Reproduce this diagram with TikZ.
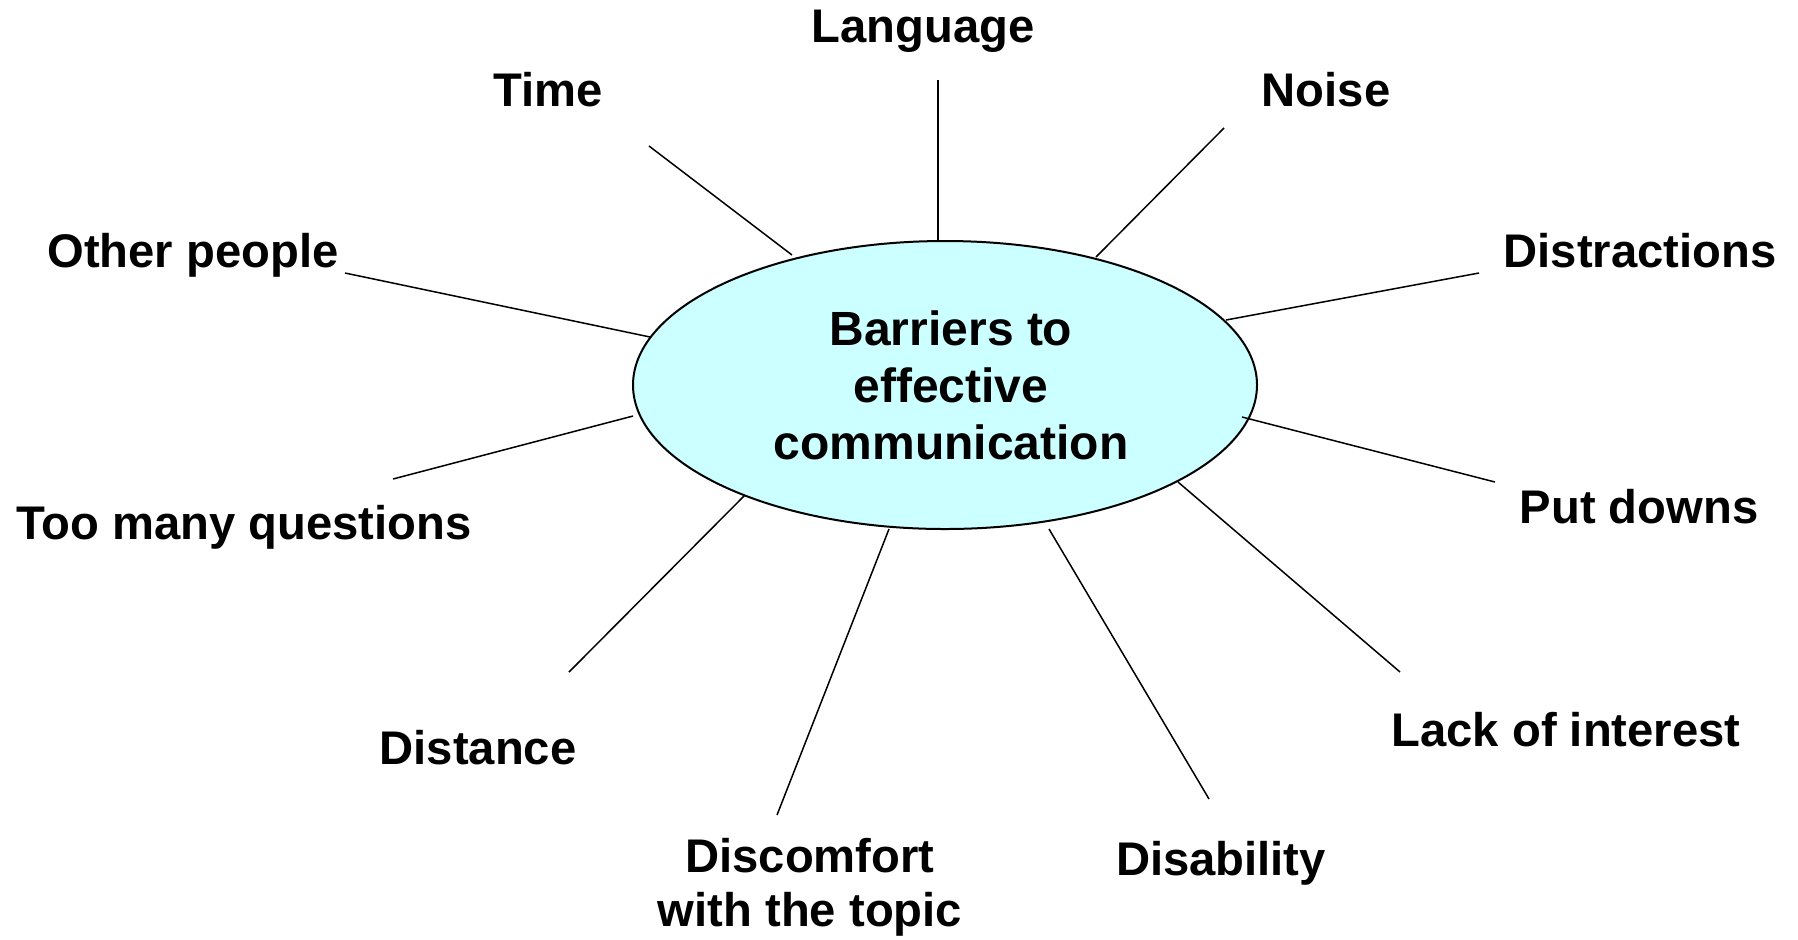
\documentclass[tikz,border=0pt]{standalone}
\usepackage{fontspec}
\setmainfont{Liberation Sans}
\usepackage{tikz}

\definecolor{hubfill}{HTML}{CCFFFF}
\tikzset{
  hub/.style={ellipse, draw, line width=1pt, fill=hubfill, inner sep=0pt,
    minimum width=312pt, minimum height=144pt, align=center,
    font=\fontsize{24}{28.5}\selectfont\bfseries},
  barrier/.style={anchor=base, inner sep=0pt, align=center,
    font=\fontsize{23.6}{28.5}\selectfont\bfseries},
  spoke/.style={line width=0.75pt}
}
\usetikzlibrary{shapes.geometric}

\begin{document}
\begin{tikzpicture}[x=0.5pt, y=-0.5pt]
        % Frame
        \useasboundingbox (0,0) rectangle (1798,939);

        % Central ellipse
        \node[hub] (hub) at (945,385) {\hspace*{6pt}Barriers to\\\hspace*{6pt}effective\\\hspace*{6pt}communication};

        % Barriers
        \foreach \name/\x/\y/\txt in {language/923/42/Language, time/548/106/Time,
            noise/1326/106/Noise, other/193/267/Other people,
            distract/1640/267/Distractions, questions/244/539/Too many questions,
            putdowns/1639/523/Put downs, distance/478/764/Distance,
            disability/1221/875/Disability, interest/1566/746/Lack of interest} {
            \node[barrier] (\name) at (\x,\y) {\txt};
        }
        \node[barrier, anchor=center, font=\fontsize{23.6}{27}\selectfont\bfseries]
            (discomfort) at (810,887) {Discomfort\\with the topic};

        % Spokes
        \foreach \name/\ax/\ay/\bx/\by in {language/938/241/938/80, time/792/255/649/146,
            noise/1096/257/1224/128, other/650/337/345/273,
            distract/1226/320/1479/273, questions/633/416/393/479,
            putdowns/1242/417/1495/482, distance/745/495/569/672,
            discomfort/889/529/777/815, disability/1049/529/1209/799,
            interest/1178/482/1400/672} {
            \coordinate (\name-in) at (\ax,\ay);
            \coordinate (\name-out) at (\bx,\by);
            \draw[spoke] (\name-in) -- (\name-out);
        }
\end{tikzpicture}
\end{document}
